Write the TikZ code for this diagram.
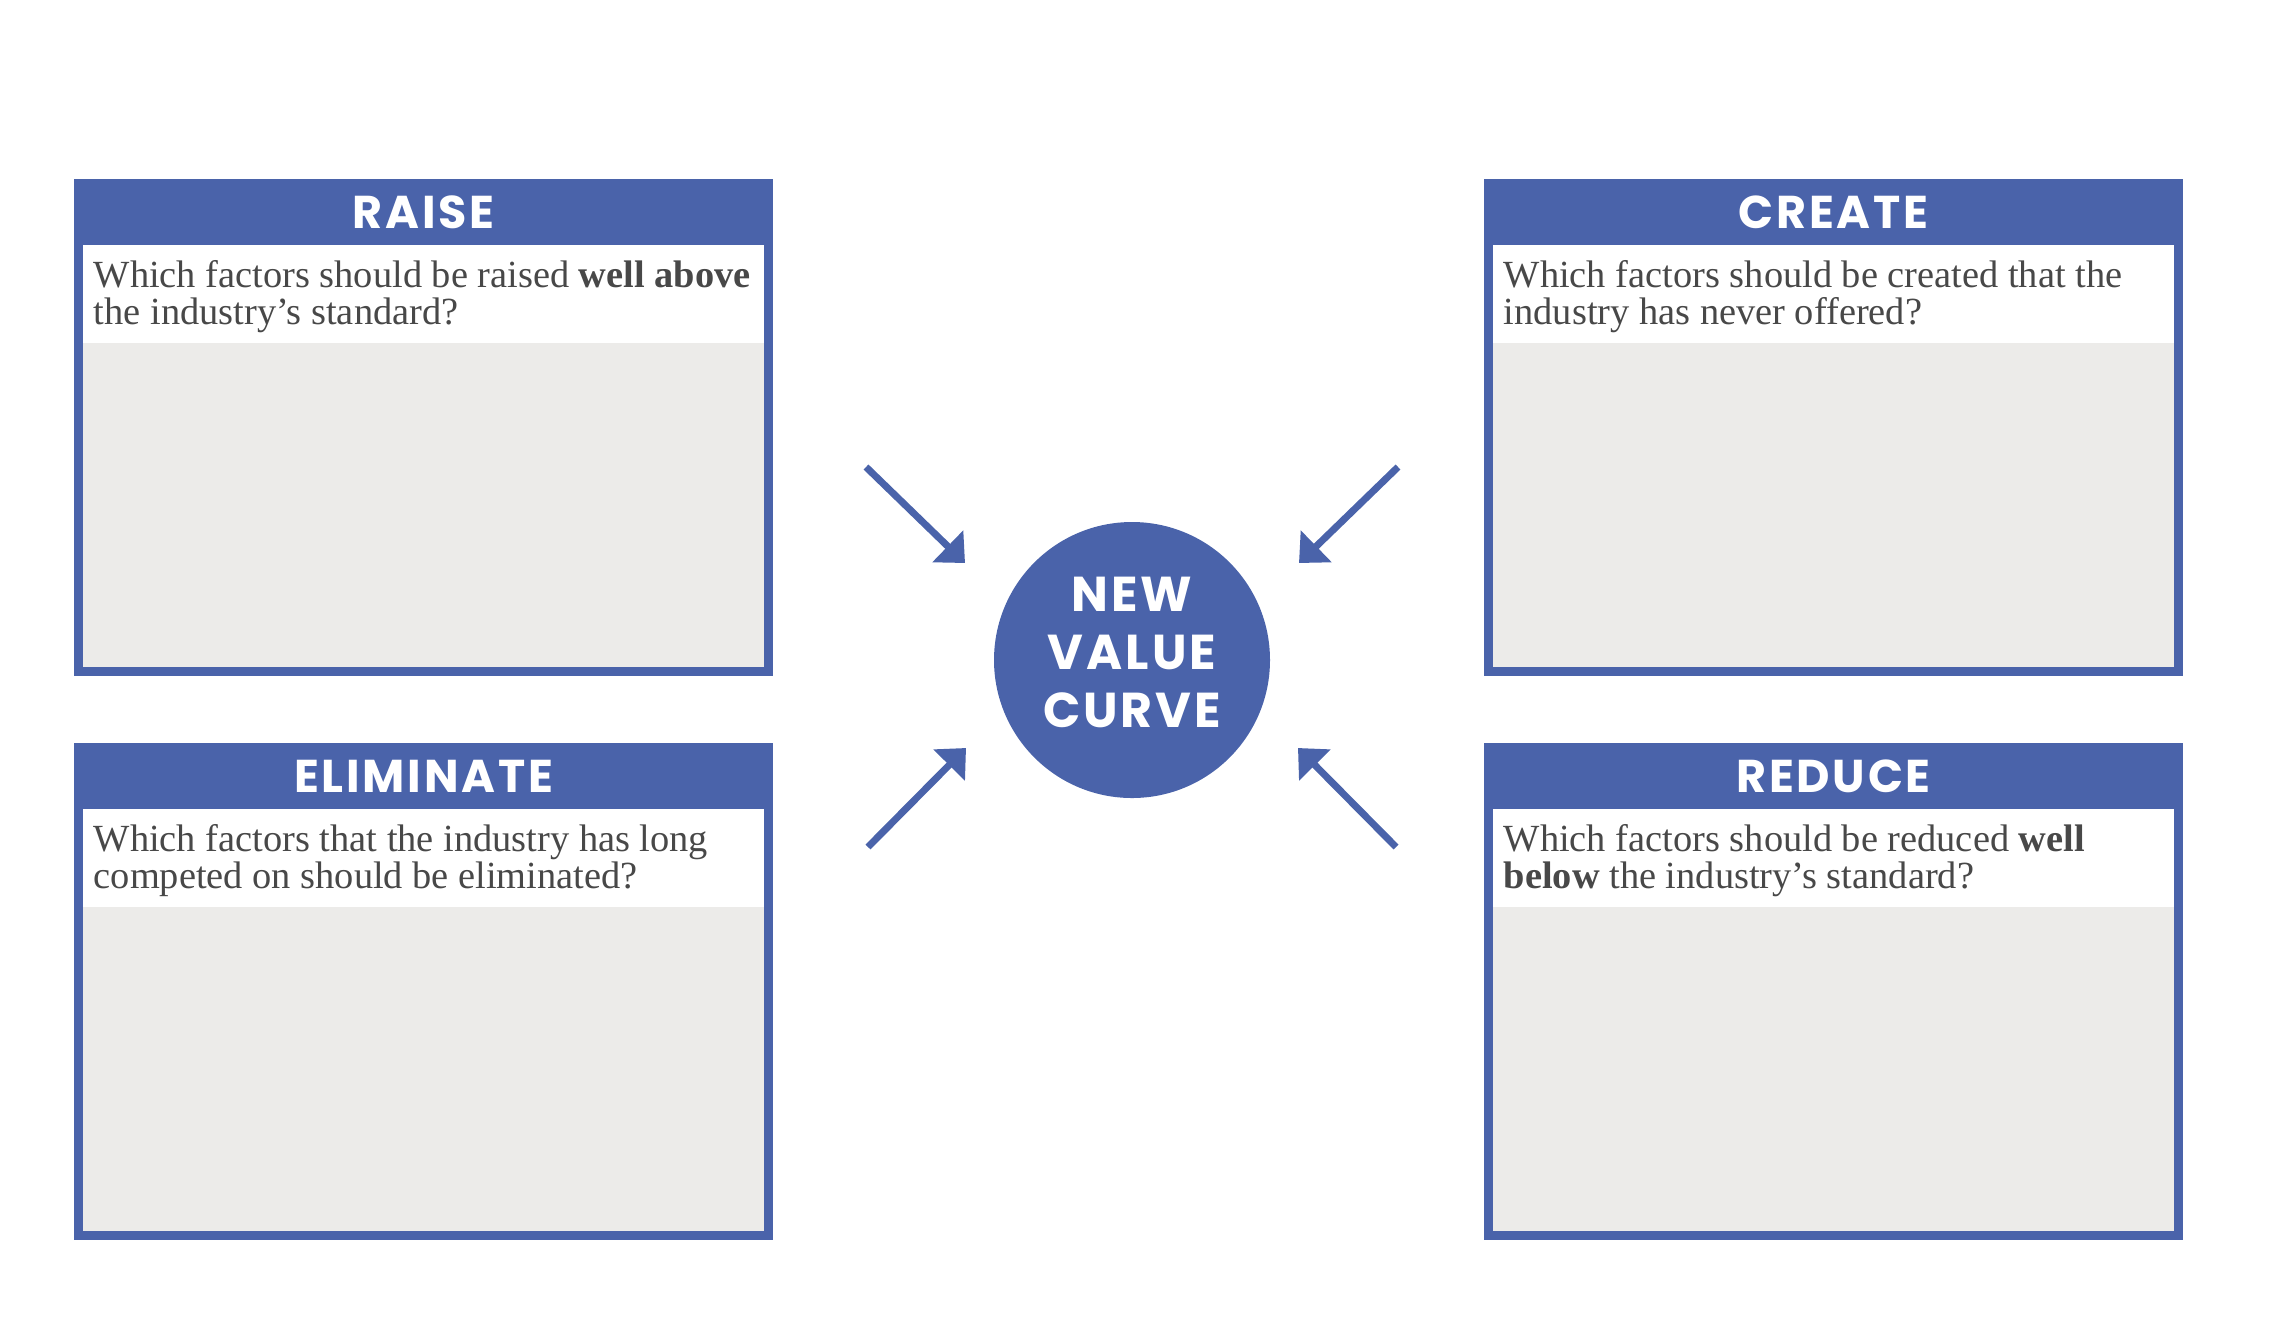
\documentclass[tikz,border=0pt]{standalone}
\usepackage{fontspec}
\setmainfont{Liberation Serif}
\newfontfamily\hfont[LetterSpace=6]{Poppins}
\usetikzlibrary{arrows.meta}
\definecolor{errcblue}{RGB}{74,99,170}
\definecolor{errcgray}{RGB}{236,235,233}
\definecolor{errctext}{RGB}{72,72,72}
\tikzset{
  outerbox/.style={fill=errcblue},
  qband/.style={fill=white},
  workarea/.style={fill=errcgray},
  headtext/.style={text=white, inner sep=0pt, font=\hfont\bfseries\fontsize{11.5pt}{11.5pt}\selectfont},
  qtext/.style={text=errctext, inner sep=0pt, anchor=base west, align=left,
    font=\fontsize{9.6pt}{9.25pt}\selectfont},
  hubtext/.style={circle, fill=errcblue, text=white, minimum size=69pt, inner sep=0pt},
  ptr/.style={draw=errcblue, line width=1.75pt, -{Triangle[length=6pt,width=10.75pt]}}
}
\begin{document}
\begin{tikzpicture}[x=0.25pt, y=-0.25pt]
\useasboundingbox (0,0) rectangle (2270,1320);
% RAISE
\path[outerbox] (74,179) rectangle (773,676);
\path[qband] (83,245) rectangle (764,343);
\path[workarea] (83,343) rectangle (764,667);
\node[headtext] (raiseT) at (423.5,212) {RAISE};
\node[qtext] (raiseQ) at (93,324) {Which factors should be raised \textbf{well above}\\the industry’s standard?};
% CREATE
\path[outerbox] (1484,179) rectangle (2183,676);
\path[qband] (1493,245) rectangle (2174,343);
\path[workarea] (1493,343) rectangle (2174,667);
\node[headtext] (createT) at (1833.5,212) {CREATE};
\node[qtext] (createQ) at (1503,324) {Which factors should be created that the\\industry has never offered?};
% ELIMINATE
\path[outerbox] (74,743) rectangle (773,1240);
\path[qband] (83,809) rectangle (764,907);
\path[workarea] (83,907) rectangle (764,1231);
\node[headtext] (elimT) at (423.5,776) {ELIMINATE};
\node[qtext] (elimQ) at (93,888) {Which factors that the industry has long\\competed on should be eliminated?};
% REDUCE
\path[outerbox] (1484,743) rectangle (2183,1240);
\path[qband] (1493,809) rectangle (2174,907);
\path[workarea] (1493,907) rectangle (2174,1231);
\node[headtext] (reduceT) at (1833.5,776) {REDUCE};
\node[qtext] (reduceQ) at (1503,888) {Which factors should be reduced \textbf{well}\\\textbf{below} the industry’s standard?};
% hub
\node[hubtext] (hub) at (1132,660) {};
\node[headtext, align=center, font=\hfont\bfseries\fontsize{12.25pt}{14.5pt}\selectfont] (hubT) at (1132,652) {NEW\\VALUE\\CURVE};
% arrows
\coordinate (a1s) at (866,467);
\coordinate (a1e) at (965,563);
\coordinate (a2s) at (1398,467);
\coordinate (a2e) at (1299,563);
\coordinate (a3s) at (868,847);
\coordinate (a3e) at (966,748);
\coordinate (a4s) at (1396,847);
\coordinate (a4e) at (1298,748);
\draw[ptr] (a1s) -- (a1e);
\draw[ptr] (a2s) -- (a2e);
\draw[ptr] (a3s) -- (a3e);
\draw[ptr] (a4s) -- (a4e);
\end{tikzpicture}
\end{document}
